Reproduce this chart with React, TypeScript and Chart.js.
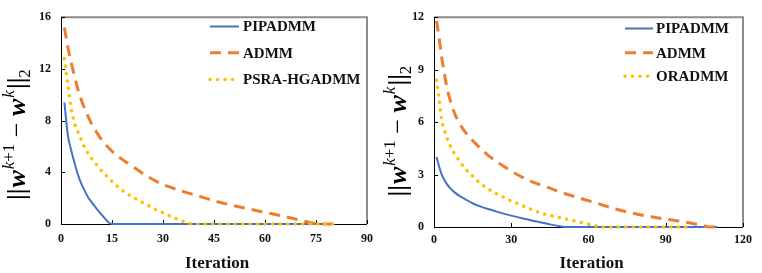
import React, { useEffect, useRef } from "react";
import { Chart, registerables } from "chart.js";

Chart.register(...registerables);

const FONT = "'Liberation Serif', 'Times New Roman', serif";
const BLUE = "#4472C4";
const ORANGE = "#ED7D31";
const YELLOW = "#FFC000";

// ---------- Left panel data ----------
const leftPipX = [1, 2, 3, 4, 5, 6, 7, 8, 9, 10, 11, 12, 13, 14, 15, 80];
const leftPipY = [9.4, 6.9, 5.7, 4.7, 3.8, 3.1, 2.55, 2.05, 1.7, 1.35, 1.02, 0.7, 0.4, 0.12, 0, 0];

const leftAdmmX = [1, 2, 3, 4, 5, 6, 7, 8, 9, 10, 12, 14, 16, 18, 20, 25, 30, 35, 40, 45, 50, 55, 60, 65, 70, 75, 80];
const leftAdmmY = [15.2, 13.7, 12.5, 11.4, 10.4, 9.6, 8.9, 8.3, 7.75, 7.3, 6.5, 5.9, 5.4, 5.0, 4.65, 3.75, 3.05, 2.6, 2.2, 1.8, 1.47, 1.18, 0.9, 0.62, 0.33, 0.03, 0];

const leftPsraX = [1, 2, 3, 4, 5, 6, 7, 8, 9, 10, 12, 14, 16, 18, 20, 22, 24, 26, 28, 30, 32, 34, 36, 38, 39, 80];
const leftPsraY = [12.8, 10.8, 8.9, 7.8, 7.1, 6.5, 5.9, 5.45, 5.05, 4.75, 4.1, 3.55, 3.05, 2.6, 2.25, 1.95, 1.65, 1.38, 1.1, 0.87, 0.62, 0.4, 0.2, 0.03, 0, 0];

const leftLabels = ["PIPADMM", "ADMM", "PSRA-HGADMM"];
const leftXTicks = { min: 0, max: 90, step: 15 };
const leftYTicks = { min: 0, max: 16, step: 4 };

// ---------- Right panel data ----------
const rightPipX = [1, 2, 3, 4, 5, 6, 8, 10, 12, 15, 18, 21, 25, 30, 35, 40, 45, 50, 51, 110];
const rightPipY = [4.0, 3.45, 3.0, 2.7, 2.45, 2.27, 1.98, 1.77, 1.6, 1.36, 1.18, 1.03, 0.85, 0.65, 0.47, 0.31, 0.15, 0.02, 0, 0];

const rightAdmmX = [1, 2, 3, 4, 5, 6, 8, 10, 12, 15, 18, 21, 25, 30, 35, 40, 45, 50, 55, 60, 65, 70, 75, 80, 85, 90, 95, 100, 104, 107, 110];
const rightAdmmY = [11.8, 10.8, 9.7, 8.8, 8.0, 7.4, 6.5, 5.9, 5.45, 4.95, 4.5, 4.1, 3.68, 3.2, 2.8, 2.48, 2.22, 1.95, 1.72, 1.5, 1.28, 1.05, 0.86, 0.7, 0.57, 0.45, 0.34, 0.22, 0.1, 0, 0];

const rightOrX = [1, 2, 3, 4, 5, 6, 7, 8, 10, 12, 14, 16, 18, 20, 23, 26, 29, 32, 35, 38, 41, 44, 47, 50, 53, 56, 59, 62, 65, 100];
const rightOrY = [8.4, 7.3, 6.1, 5.55, 5.1, 4.74, 4.45, 4.18, 3.75, 3.35, 3.06, 2.77, 2.5, 2.28, 2.0, 1.78, 1.56, 1.37, 1.18, 1.0, 0.82, 0.7, 0.6, 0.5, 0.4, 0.3, 0.2, 0.1, 0, 0];

const rightLabels = ["PIPADMM", "ADMM", "ORADMM"];
const rightXTicks = { min: 0, max: 120, step: 30 };
const rightYTicks = { min: 0, max: 12, step: 3 };

type Style = "solid" | "dash" | "dot";
const STYLES: Style[] = ["solid", "dash", "dot"];
const COLORS = [BLUE, ORANGE, YELLOW];

function styleProps(s: Style) {
  if (s === "solid") return { borderWidth: 2, borderDash: [] as number[], borderCapStyle: "butt" as const };
  if (s === "dash") return { borderWidth: 3, borderDash: [11, 7], borderCapStyle: "butt" as const };
  return { borderWidth: 3.5, borderDash: [0.1, 7.4], borderCapStyle: "round" as const };
}

function pts(xs: number[], ys: number[]) {
  return xs.map((x, i) => ({ x, y: ys[i] }));
}

interface PanelProps {
  series: { xs: number[]; ys: number[] }[];
  labels: string[];
  xt: { min: number; max: number; step: number };
  yt: { min: number; max: number; step: number };
  yAxisWidth: number;
  xAxisHeight: number;
  padRight: number;
  legend: { lineX0: number; lineX1: number; textX: number; ys: number[] };
  yTitleCenterOffset: number;
  xPad: number;
}

function drawYTitle(ctx: CanvasRenderingContext2D, baseX: number, centerY: number) {
  const F = 26;
  const S = 17;
  const pieces: { t: string; font: string; dy: number; after?: number }[] = [
    { t: "||", font: `bold ${F}px ${FONT}`, dy: 0, after: 1 },
    { t: "w", font: `bold italic ${F}px ${FONT}`, dy: 0, after: 1 },
    { t: "k", font: `italic ${S}px ${FONT}`, dy: -11 },
    { t: "+1", font: `${S}px ${FONT}`, dy: -11 },
    { t: " \u2212 ", font: `${F}px ${FONT}`, dy: 0 },
    { t: "w", font: `bold italic ${F}px ${FONT}`, dy: 0, after: 1 },
    { t: "k", font: `italic ${S}px ${FONT}`, dy: -11, after: 1 },
    { t: "||", font: `bold ${F}px ${FONT}`, dy: 0 },
    { t: "2", font: `${S}px ${FONT}`, dy: 5 },
  ];
  let total = 0;
  const widths = pieces.map((p) => {
    ctx.font = p.font;
    const w = ctx.measureText(p.t).width + (p.after || 0);
    total += w;
    return w;
  });
  ctx.save();
  ctx.translate(baseX, centerY);
  ctx.rotate(-Math.PI / 2);
  ctx.fillStyle = "#000";
  ctx.textBaseline = "alphabetic";
  ctx.textAlign = "left";
  let u = -total / 2;
  pieces.forEach((p, i) => {
    ctx.font = p.font;
    ctx.fillText(p.t, u, p.dy);
    u += widths[i];
  });
  ctx.restore();
}

function Panel(props: PanelProps) {
  const ref = useRef<HTMLCanvasElement>(null);
  useEffect(() => {
    const canvas = ref.current!;
    const order = [2, 1, 0];
    const datasets = order.map((i) => ({
      label: props.labels[i],
      data: pts(props.series[i].xs, props.series[i].ys),
      borderColor: COLORS[i],
      backgroundColor: COLORS[i],
      pointRadius: 0,
      fill: false,
      tension: 0,
      cubicInterpolationMode: "monotone" as const,
      clip: false as const,
      ...styleProps(STYLES[i]),
    }));

    const decor = {
      id: "decor",
      beforeDatasetsDraw(chart: any) {
        const { ctx, chartArea: a, scales } = chart;
        ctx.save();
        // top & right border
        ctx.strokeStyle = "#8c8c8c";
        ctx.lineWidth = 2;
        ctx.beginPath();
        ctx.moveTo(a.left, a.top);
        ctx.lineTo(a.right, a.top);
        ctx.lineTo(a.right, a.bottom);
        ctx.stroke();
        // axes
        ctx.strokeStyle = "#000";
        ctx.lineWidth = 1;
        ctx.beginPath();
        ctx.moveTo(Math.round(a.left) + 0.5, a.top);
        ctx.lineTo(Math.round(a.left) + 0.5, Math.round(a.bottom) + 0.5);
        ctx.lineTo(a.right, Math.round(a.bottom) + 0.5);
        ctx.stroke();
        // inside ticks
        ctx.beginPath();
        scales.y.ticks.forEach((t: any) => {
          const y = Math.round(scales.y.getPixelForValue(t.value)) + 0.5;
          ctx.moveTo(a.left, y);
          ctx.lineTo(a.left + 4, y);
        });
        scales.x.ticks.forEach((t: any) => {
          const x = Math.round(scales.x.getPixelForValue(t.value)) + 0.5;
          ctx.moveTo(x, a.bottom);
          ctx.lineTo(x, a.bottom - 4);
        });
        ctx.stroke();
        ctx.restore();
      },
      afterDatasetsDraw(chart: any) {
        const { ctx, chartArea: a } = chart;
        ctx.save();
        // legend
        const lg = props.legend;
        [0, 1, 2].forEach((i) => {
          const sp = styleProps(STYLES[i]);
          ctx.strokeStyle = COLORS[i];
          ctx.lineWidth = sp.borderWidth;
          ctx.setLineDash(sp.borderDash);
          ctx.lineCap = sp.borderCapStyle;
          ctx.beginPath();
          ctx.moveTo(lg.lineX0, lg.ys[i]);
          ctx.lineTo(lg.lineX1, lg.ys[i]);
          ctx.stroke();
          ctx.setLineDash([]);
          ctx.fillStyle = "#111";
          ctx.font = `bold 15px ${FONT}`;
          ctx.textBaseline = "middle";
          ctx.textAlign = "left";
          ctx.fillText(props.labels[i], lg.textX, lg.ys[i] + 1);
        });
        // x title
        ctx.font = `bold 17px ${FONT}`;
        ctx.textAlign = "center";
        ctx.textBaseline = "alphabetic";
        ctx.fillStyle = "#111";
        ctx.fillText("Iteration", (a.left + a.right) / 2 + 3, 268);
        // y title
        drawYTitle(ctx, 25, (a.top + a.bottom) / 2 + props.yTitleCenterOffset);
        ctx.restore();
      },
    };

    const chart = new Chart(canvas, {
      type: "line",
      data: { datasets },
      options: {
        animation: false,
        responsive: false,
        events: [],
        layout: { padding: { top: 11, right: props.padRight, left: 0, bottom: 0 } },
        plugins: { legend: { display: false }, tooltip: { enabled: false }, title: { display: false } },
        scales: {
          x: {
            type: "linear",
            min: props.xt.min,
            max: props.xt.max,
            grid: { display: false, drawTicks: false },
            border: { display: false },
            ticks: {
              stepSize: props.xt.step,
              color: "#111",
              font: { family: FONT, size: 12, weight: "bold" },
              padding: props.xPad,
              maxRotation: 0,
            },
            afterFit: (s: any) => {
              s.height = props.xAxisHeight;
            },
          },
          y: {
            type: "linear",
            min: props.yt.min,
            max: props.yt.max,
            grid: { display: false, drawTicks: false },
            border: { display: false },
            ticks: {
              stepSize: props.yt.step,
              color: "#111",
              font: { family: FONT, size: 12, weight: "bold" },
              padding: 10,
            },
            afterFit: (s: any) => {
              s.width = props.yAxisWidth;
            },
          },
        },
      },
      plugins: [decor],
    } as any);
    return () => chart.destroy();
  }, []);
  return <canvas ref={ref} width={381} height={273} style={{ display: "block", width: 381, height: 273 }} />;
}

export default function App() {
  return (
    <div style={{ position: "fixed", left: 0, top: 0, width: 762, height: 273, display: "flex", background: "#fff" }}>
      <Panel
        series={[
          { xs: leftPipX, ys: leftPipY },
          { xs: leftAdmmX, ys: leftAdmmY },
          { xs: leftPsraX, ys: leftPsraY },
        ]}
        labels={leftLabels}
        xt={leftXTicks}
        yt={leftYTicks}
        yAxisWidth={61}
        xAxisHeight={49}
        padRight={14}
        legend={{ lineX0: 210, lineX1: 239, textX: 243, ys: [26.5, 52.7, 79.5] }}
        yTitleCenterOffset={14}
        xPad={8}
      />
      <Panel
        series={[
          { xs: rightPipX, ys: rightPipY },
          { xs: rightAdmmX, ys: rightAdmmY },
          { xs: rightOrX, ys: rightOrY },
        ]}
        labels={rightLabels}
        xt={rightXTicks}
        yt={rightYTicks}
        yAxisWidth={53}
        xAxisHeight={46}
        padRight={19}
        legend={{ lineX0: 244, lineX1: 272, textX: 275, ys: [28.5, 52.7, 76.3] }}
        yTitleCenterOffset={9}
        xPad={6}
      />
    </div>
  );
}
